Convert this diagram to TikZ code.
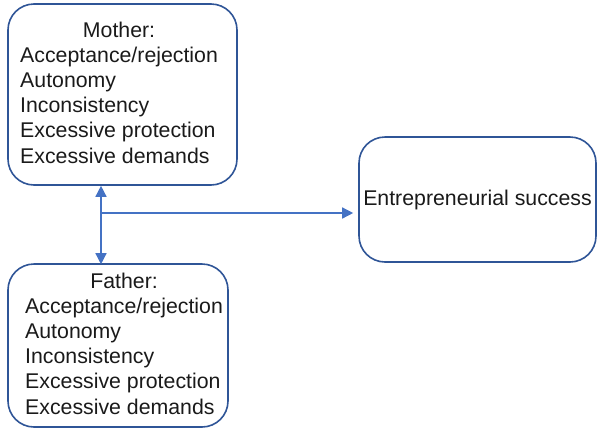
\documentclass[tikz,border=0pt]{standalone}
\usepackage{fontspec}
\setmainfont{Liberation Sans}
\usetikzlibrary{arrows.meta}
\definecolor{boxblue}{HTML}{2F5597}
\definecolor{arrowblue}{HTML}{4472C4}
\definecolor{ink}{HTML}{1A1A1A}
\begin{document}
\begin{tikzpicture}[x=1pt,y=-1pt,
  factorbox/.style={draw=boxblue, line width=1.6pt, rounded corners=26pt,
    inner sep=0pt, minimum width=#1},
  label/.style={text=ink, inner sep=0pt, font=\fontsize{21.3}{25.2}\selectfont},
  link/.style={draw=arrowblue, line width=1.4pt,
    arrows={-Triangle[length=11pt,width=11pt]}},
]
\useasboundingbox (0,0) rectangle (597,429);

% parenting dimensions of each parent
\node[factorbox=229pt, minimum height=181pt] (mother) at (122.5,94.5) {};
\node[factorbox=220pt, minimum height=163pt] (father) at (118,345.5) {};
\node[factorbox=237pt, minimum height=125pt, label] (success) at (477.5,199.5)
  {Entrepreneurial success};

\node[label, anchor=base west] (mothertext) at (20,37) {%
  \begin{tabular}[t]{@{}l@{}}
  \multicolumn{1}{@{}c@{}}{Mother:}\\
  Acceptance/rejection\\
  Autonomy\\
  Inconsistency\\
  Excessive protection\\
  Excessive demands
  \end{tabular}};
\node[label, anchor=base west] (fathertext) at (25,288) {%
  \begin{tabular}[t]{@{}l@{}}
  \multicolumn{1}{@{}c@{}}{Father:}\\
  Acceptance/rejection\\
  Autonomy\\
  Inconsistency\\
  Excessive protection\\
  Excessive demands
  \end{tabular}};

% connectors
\coordinate (joint) at (101,213);
\draw[link, arrows={Triangle[length=11pt,width=11pt]-Triangle[length=11pt,width=11pt]}]
  (mother.south -| joint) -- ([yshift=-1pt]father.north -| joint);
\draw[link, shorten >=5pt] (joint) -- (success.west |- joint);
\end{tikzpicture}
\end{document}
